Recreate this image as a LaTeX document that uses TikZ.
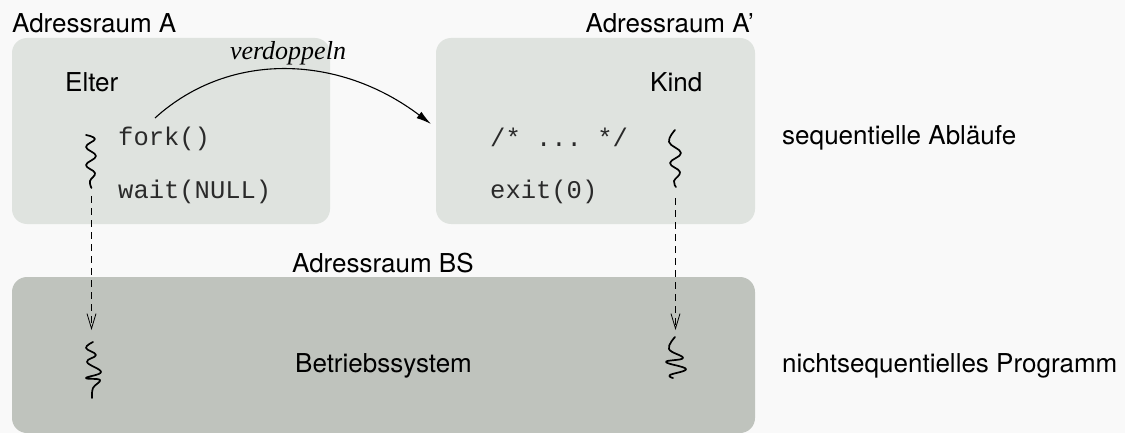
\documentclass[tikz,border=0pt]{standalone}
\usepackage{fontspec}
\setmainfont{TeX Gyre Heros}
\setmonofont{Liberation Mono}
\newfontfamily\serifit{Liberation Serif}
\usetikzlibrary{arrows.meta}
\definecolor{bgc}{HTML}{F9F9F9}
\definecolor{lightbox}{HTML}{DFE3DF}
\definecolor{darkbox}{HTML}{BFC3BD}
\definecolor{codec}{HTML}{2A2A2A}
\begin{document}
\begin{tikzpicture}[x=1pt,y=-1pt,
  lbl/.style={inner sep=0pt, font=\fontsize{26}{30}\selectfont},
  code/.style={inner sep=0pt, text=codec, font=\fontsize{25.5}{30}\selectfont\ttfamily, anchor=base west},
  squig/.style={line width=1.7pt, line cap=round, line join=round},
  flow/.style={line width=0.8pt, dash pattern=on 7pt off 5pt, -{Straight Barb[length=15pt,width=9pt,line width=0.8pt]}},
  copyarc/.style={line width=1.1pt, -{Latex[length=15pt,width=8pt]}},
  space/.style={rounded corners=15pt}
]
\useasboundingbox (0,0) rectangle (1125,433);
\fill[bgc] (0,0) rectangle (1125,433);
% address spaces
\fill[lightbox, space] (12,38) rectangle (330,224);
\fill[lightbox, space] (436,38) rectangle (755,224);
\fill[darkbox, space] (12,277) rectangle (755,433);
% labels
\node[lbl, anchor=base west] (lA) at (12,33) {Adressraum A};
\node[lbl, anchor=base east] (lA2) at (754,33) {Adressraum A'};
\node[lbl, anchor=base west] (lBS) at (292,272) {Adressraum BS};
\node[lbl, anchor=base west] (elter) at (65,92) {Elter};
\node[lbl, anchor=base west] (kind) at (650,92) {Kind};
\node[lbl, anchor=base west] (bs) at (295,372) {Betriebssystem};
\node[lbl, anchor=base west] (seq) at (782,145) {sequentielle Abläufe};
\node[lbl, anchor=base west] (nseq) at (782,372) {nichtsequentielles Programm};
% code
\node[code] (fork) at (118,146) {fork()};
\node[code] (wait) at (118,198) {wait(NULL)};
\node[code] (comm) at (490,147) {/* ... */};
\node[code] (exit) at (490,199) {exit(0)};
% verdoppeln
\coordinate (arcS) at (155,118);
\coordinate (arcE) at (431,124);
\draw[copyarc] (arcS) .. controls (230,50) and (340,55) .. (arcE);
\node[inner sep=0pt, anchor=base, font=\fontsize{26}{30}\selectfont\serifit\itshape] (verd) at (288,60) {verdoppeln};
% squiggles (threads)
\draw[squig] plot[smooth, tension=0.7] coordinates {(86,135) (95,139) (86,147) (96,156) (86,165) (95,173) (90,181) (91.5,188)};
\draw[squig] plot[smooth, tension=0.7] coordinates {(675,130) (669,142) (681,153) (670,163) (680,172) (674,181) (676,187)};
\draw[squig] plot[smooth, tension=0.7] coordinates {(93,342) (86,348) (96,355) (87,362) (101,372) (86,378) (100,380) (93,388) (92,398)};
\draw[squig] plot[smooth, tension=0.7] coordinates {(675,337) (669,349) (683,358) (666,362) (686,369) (670,375) (673,378)};
% dashed connectors
\coordinate (l1) at (91.5,196);
\coordinate (l2) at (91.5,330);
\coordinate (r1) at (675.5,198);
\coordinate (r2) at (675.5,330);
\draw[flow] (l1) -- (l2);
\draw[flow] (r1) -- (r2);
\end{tikzpicture}
\end{document}
